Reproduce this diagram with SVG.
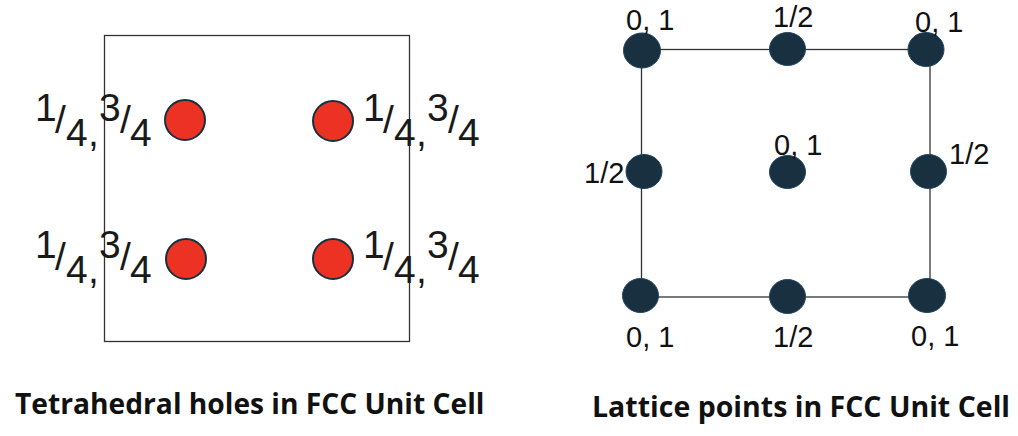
<svg xmlns="http://www.w3.org/2000/svg" width="1018" height="436" viewBox="0 0 1018 436">
<style>
.f{font-family:"Liberation Sans",Arial,sans-serif;fill:#1a1a1a}
.h{font-size:39px}
.l{font-size:29px;fill:#111}
.c{font-size:28.200px;font-weight:bold;fill:#111;font-family:"Open Sans","Liberation Sans",sans-serif}
.r{fill:#ec3323;stroke:#16303f;stroke-width:2}
.d{fill:#193040;stroke:#1f4560;stroke-width:1}
.e{fill:none;stroke:#333;stroke-width:1.300}
</style>
<rect width="1018" height="436" fill="#fff"/>
<g id="connectors">
<rect class="e" x="104.500" y="35.500" width="305" height="306"/>
<rect class="e" x="641.500" y="49.500" width="288.500" height="247.500"/>
</g>
<g id="holes">
<g id="h1"><circle class="r" cx="185" cy="120" r="20"/><text class="f h"><tspan x="35" y="121">1</tspan><tspan x="55" y="133">/</tspan><tspan x="66" y="146">4</tspan><tspan x="88" y="146">,</tspan><tspan x="99" y="121">3</tspan><tspan x="120" y="133">/</tspan><tspan x="130" y="146">4</tspan></text></g>
<g id="h2"><circle class="r" cx="333" cy="121" r="20"/><text class="f h"><tspan x="363" y="121">1</tspan><tspan x="383" y="133">/</tspan><tspan x="394" y="146">4</tspan><tspan x="416" y="146">,</tspan><tspan x="427" y="121">3</tspan><tspan x="448" y="133">/</tspan><tspan x="458" y="146">4</tspan></text></g>
<g id="h3"><circle class="r" cx="186" cy="259" r="20"/><text class="f h"><tspan x="35" y="258">1</tspan><tspan x="55" y="270">/</tspan><tspan x="66" y="283">4</tspan><tspan x="88" y="283">,</tspan><tspan x="99" y="258">3</tspan><tspan x="120" y="270">/</tspan><tspan x="130" y="283">4</tspan></text></g>
<g id="h4"><circle class="r" cx="333" cy="259" r="20"/><text class="f h"><tspan x="363" y="258">1</tspan><tspan x="383" y="270">/</tspan><tspan x="394" y="283">4</tspan><tspan x="416" y="283">,</tspan><tspan x="427" y="258">3</tspan><tspan x="448" y="270">/</tspan><tspan x="458" y="283">4</tspan></text></g>
</g>
<g id="lattice">
<g id="p1"><ellipse class="d" cx="642" cy="50.500" rx="18.500" ry="17.500"/><text class="f l" x="626" y="30">0, 1</text></g>
<g id="p2"><ellipse class="d" cx="787.500" cy="49" rx="18" ry="16.500"/><text class="f l" x="773" y="27">1/2</text></g>
<g id="p3"><ellipse class="d" cx="926" cy="49.500" rx="18" ry="17"/><text class="f l" x="915" y="32">0, 1</text></g>
<g id="p4"><ellipse class="d" cx="644" cy="171.500" rx="18" ry="17"/><text class="f l" x="584" y="183">1/2</text></g>
<g id="p5"><ellipse class="d" cx="787.500" cy="172" rx="18" ry="16.500"/><text class="f l" x="774" y="155">0, 1</text></g>
<g id="p6"><ellipse class="d" cx="928.500" cy="171.500" rx="18" ry="17"/><text class="f l" x="949" y="164">1/2</text></g>
<g id="p7"><ellipse class="d" cx="640.500" cy="295.500" rx="18" ry="17"/><text class="f l" x="626" y="347">0, 1</text></g>
<g id="p8"><ellipse class="d" cx="787.500" cy="296.500" rx="18" ry="17"/><text class="f l" x="773" y="347">1/2</text></g>
<g id="p9"><ellipse class="d" cx="927" cy="295.500" rx="18.500" ry="17"/><text class="f l" x="911" y="346">0, 1</text></g>
</g>
<text class="c" x="15" y="414">Tetrahedral holes in FCC Unit Cell</text>
<text class="c" x="592" y="417" font-size="28.500" style="font-size:28.500px">Lattice points in FCC Unit Cell</text>
</svg>
